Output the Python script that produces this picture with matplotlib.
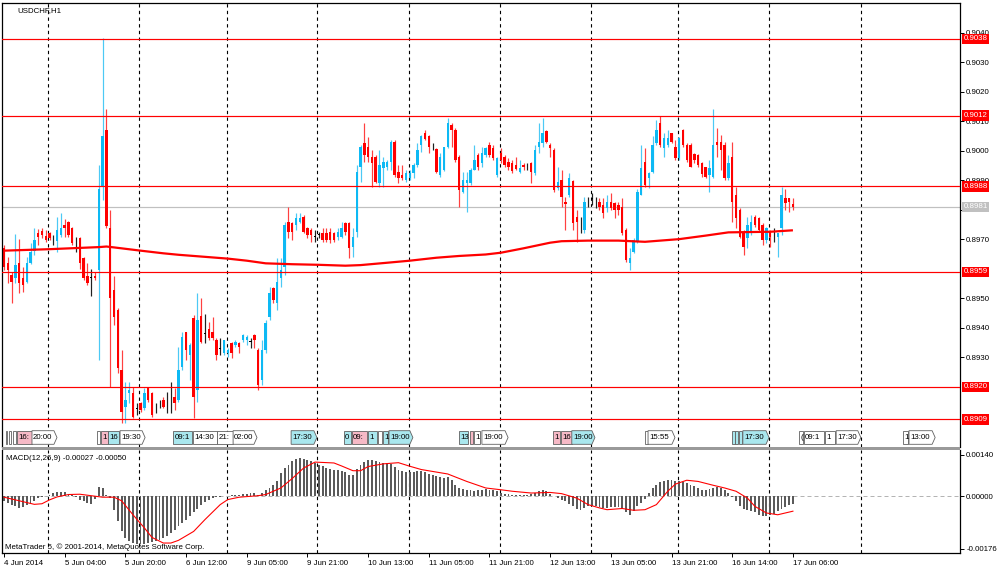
import matplotlib
matplotlib.use('Agg')
import matplotlib.pyplot as plt
from matplotlib.patches import Polygon, Rectangle
import matplotlib.transforms as mtransforms
import numpy as np

plt.rcParams['font.family'] = ['Liberation Sans', 'DejaVu Sans']

# ---------------- data (USDCHF H1, 4 Jun 2014 12:00 .. 17 Jun 2014 06:00) ----------------
open_ = [0.89670, 0.89619, 0.89579, 0.89568, 0.89619, 0.89568, 0.89557, 0.89621, 0.89662, 0.89721,
         0.89729, 0.89712, 0.89721, 0.89696, 0.89696, 0.89715, 0.89749, 0.89760, 0.89738, 0.89675,
         0.89704, 0.89636, 0.89576, 0.89572, 0.89576, 0.89596, 0.89879, 0.90071, 0.89738, 0.89529,
         0.89461, 0.89257, 0.89133, 0.89178, 0.89178, 0.89129, 0.89144, 0.89127, 0.89195, 0.89178,
         0.89123, 0.89140, 0.89156, 0.89147, 0.89167, 0.89167, 0.89156, 0.89269, 0.89387, 0.89308,
         0.89433, 0.89190, 0.89440, 0.89382, 0.89395, 0.89387, 0.89359, 0.89331, 0.89314, 0.89314,
         0.89348, 0.89342, 0.89348, 0.89359, 0.89359, 0.89355, 0.89376, 0.89325, 0.89223, 0.89325,
         0.89438, 0.89534, 0.89483, 0.89568, 0.89608, 0.89760, 0.89755, 0.89749, 0.89760, 0.89777,
         0.89738, 0.89732, 0.89711, 0.89718, 0.89721, 0.89721, 0.89726, 0.89721, 0.89709, 0.89709,
         0.89757, 0.89757, 0.89675, 0.89726, 0.89947, 0.90026, 0.90014, 0.89981, 0.89981, 0.89890,
         0.89941, 0.89947, 0.89964, 0.90031, 0.89930, 0.89918, 0.89901, 0.89907, 0.89924, 0.89952,
         0.90020, 0.90062, 0.90051, 0.90018, 0.90005, 0.89918, 0.89935, 0.90014, 0.90088, 0.90071,
         0.89981, 0.89862, 0.89890, 0.89890, 0.89935, 0.89986, 0.89958, 0.89986, 0.90020, 0.90009,
         0.89918, 0.89992, 0.89981, 0.89964, 0.89960, 0.89952, 0.89930, 0.89952, 0.89950, 0.89960,
         0.89924, 0.90014, 0.90026, 0.90069, 0.90020, 0.90003, 0.89873, 0.89901, 0.89828, 0.89851,
         0.89899, 0.89777, 0.89767, 0.89732, 0.89835, 0.89839, 0.89828, 0.89828, 0.89817, 0.89805,
         0.89828, 0.89822, 0.89817, 0.89811, 0.89732, 0.89619, 0.89659, 0.89692, 0.89851, 0.89964,
         0.89907, 0.89930, 0.90026, 0.90094, 0.90009, 0.90020, 0.90060, 0.90014, 0.89975, 0.90071,
         0.90020, 0.90020, 0.89990, 0.89986, 0.89958, 0.89947, 0.89918, 0.89913, 0.90031, 0.90031,
         0.90020, 0.89907, 0.89981, 0.89851, 0.89800, 0.89726, 0.89704, 0.89726, 0.89777, 0.89772,
         0.89749, 0.89698, 0.89721, 0.89716, 0.89709, 0.89738, 0.89839, 0.89839, 0.89820]
high = [0.89681, 0.89642, 0.89591, 0.89718, 0.89700, 0.89608, 0.89642, 0.89687, 0.89738, 0.89734,
        0.89738, 0.89732, 0.89726, 0.89715, 0.89777, 0.89788, 0.89768, 0.89764, 0.89743, 0.89709,
        0.89709, 0.89642, 0.89619, 0.89599, 0.89591, 0.89952, 0.90382, 0.90141, 0.89800, 0.89576,
        0.89466, 0.89325, 0.89218, 0.89218, 0.89199, 0.89144, 0.89150, 0.89195, 0.89199, 0.89184,
        0.89144, 0.89156, 0.89167, 0.89184, 0.89218, 0.89195, 0.89336, 0.89387, 0.89387, 0.89348,
        0.89444, 0.89517, 0.89500, 0.89447, 0.89421, 0.89438, 0.89365, 0.89365, 0.89359, 0.89331,
        0.89353, 0.89359, 0.89353, 0.89378, 0.89376, 0.89365, 0.89379, 0.89331, 0.89359, 0.89427,
        0.89540, 0.89540, 0.89636, 0.89636, 0.89760, 0.89811, 0.89760, 0.89788, 0.89788, 0.89783,
        0.89743, 0.89738, 0.89732, 0.89726, 0.89738, 0.89738, 0.89738, 0.89726, 0.89738, 0.89760,
        0.89760, 0.89760, 0.89738, 0.89952, 0.90020, 0.90094, 0.90048, 0.90003, 0.89986, 0.90003,
        0.89981, 0.89969, 0.90037, 0.90037, 0.89952, 0.89952, 0.89935, 0.89935, 0.89958, 0.90026,
        0.90054, 0.90071, 0.90054, 0.90026, 0.90009, 0.89992, 0.90014, 0.90111, 0.90094, 0.90077,
        0.89986, 0.89930, 0.89930, 0.89941, 0.90020, 0.89992, 0.90014, 0.90014, 0.90031, 0.90020,
        0.89981, 0.90009, 0.89986, 0.89975, 0.89969, 0.89981, 0.89969, 0.89958, 0.89958, 0.89964,
        0.90020, 0.90094, 0.90111, 0.90071, 0.90026, 0.90009, 0.89947, 0.89935, 0.89845, 0.89924,
        0.89901, 0.89800, 0.89777, 0.89845, 0.89845, 0.89856, 0.89845, 0.89839, 0.89839, 0.89851,
        0.89856, 0.89828, 0.89828, 0.89839, 0.89738, 0.89670, 0.89704, 0.89870, 0.90020, 0.90009,
        0.89930, 0.90051, 0.90105, 0.90118, 0.90060, 0.90071, 0.90062, 0.90037, 0.90048, 0.90073,
        0.90026, 0.90026, 0.89992, 0.89990, 0.89964, 0.89947, 0.89969, 0.90141, 0.90079, 0.90054,
        0.90031, 0.89986, 0.90031, 0.89879, 0.89805, 0.89732, 0.89777, 0.89783, 0.89783, 0.89777,
        0.89755, 0.89743, 0.89732, 0.89738, 0.89721, 0.89879, 0.89870, 0.89839, 0.89839]
low = [0.89596, 0.89551, 0.89483, 0.89551, 0.89517, 0.89523, 0.89551, 0.89617, 0.89647, 0.89681,
       0.89704, 0.89692, 0.89698, 0.89681, 0.89659, 0.89709, 0.89709, 0.89709, 0.89681, 0.89659,
       0.89599, 0.89562, 0.89546, 0.89508, 0.89562, 0.89291, 0.89834, 0.89738, 0.89199, 0.89410,
       0.89246, 0.89077, 0.89077, 0.89144, 0.89094, 0.89105, 0.89116, 0.89122, 0.89150, 0.89099,
       0.89110, 0.89127, 0.89127, 0.89110, 0.89110, 0.89122, 0.89150, 0.89257, 0.89291, 0.89223,
       0.89094, 0.89150, 0.89348, 0.89348, 0.89359, 0.89359, 0.89291, 0.89308, 0.89308, 0.89303,
       0.89297, 0.89336, 0.89314, 0.89353, 0.89342, 0.89331, 0.89331, 0.89190, 0.89207, 0.89314,
       0.89427, 0.89483, 0.89461, 0.89540, 0.89579, 0.89704, 0.89698, 0.89732, 0.89755, 0.89721,
       0.89704, 0.89692, 0.89692, 0.89704, 0.89692, 0.89692, 0.89687, 0.89692, 0.89698, 0.89704,
       0.89715, 0.89636, 0.89642, 0.89709, 0.89896, 0.89964, 0.89964, 0.89879, 0.89890, 0.89879,
       0.89879, 0.89935, 0.89935, 0.89913, 0.89890, 0.89901, 0.89896, 0.89901, 0.89907, 0.89947,
       0.89998, 0.90037, 0.89992, 0.90003, 0.89924, 0.89913, 0.89933, 0.90009, 0.90014, 0.89964,
       0.89811, 0.89856, 0.89794, 0.89885, 0.89935, 0.89935, 0.89947, 0.89981, 0.89981, 0.89969,
       0.89913, 0.89958, 0.89947, 0.89935, 0.89926, 0.89935, 0.89924, 0.89935, 0.89935, 0.89890,
       0.89918, 0.89992, 0.90014, 0.90026, 0.89981, 0.89862, 0.89868, 0.89811, 0.89732, 0.89845,
       0.89732, 0.89692, 0.89721, 0.89721, 0.89811, 0.89817, 0.89805, 0.89800, 0.89772, 0.89794,
       0.89800, 0.89772, 0.89783, 0.89715, 0.89625, 0.89596, 0.89653, 0.89687, 0.89851, 0.89879,
       0.89873, 0.89924, 0.90020, 0.90014, 0.89981, 0.90014, 0.90026, 0.89969, 0.89969, 0.90014,
       0.89964, 0.89944, 0.89958, 0.89944, 0.89913, 0.89907, 0.89862, 0.89907, 0.89981, 0.89935,
       0.89901, 0.89901, 0.89760, 0.89738, 0.89704, 0.89647, 0.89670, 0.89715, 0.89743, 0.89726,
       0.89681, 0.89687, 0.89675, 0.89692, 0.89642, 0.89715, 0.89800, 0.89794, 0.89800]
close = [0.89608, 0.89596, 0.89557, 0.89613, 0.89551, 0.89546, 0.89619, 0.89659, 0.89698, 0.89709,
         0.89715, 0.89698, 0.89704, 0.89694, 0.89732, 0.89738, 0.89738, 0.89715, 0.89687, 0.89673,
         0.89619, 0.89568, 0.89551, 0.89569, 0.89568, 0.89870, 0.90051, 0.89746, 0.89500, 0.89438,
         0.89263, 0.89116, 0.89156, 0.89190, 0.89099, 0.89126, 0.89122, 0.89178, 0.89156, 0.89105,
         0.89121, 0.89138, 0.89133, 0.89144, 0.89165, 0.89144, 0.89257, 0.89370, 0.89325, 0.89342,
         0.89167, 0.89427, 0.89353, 0.89379, 0.89365, 0.89365, 0.89308, 0.89329, 0.89359, 0.89325,
         0.89314, 0.89353, 0.89336, 0.89376, 0.89370, 0.89352, 0.89359, 0.89207, 0.89325, 0.89418,
         0.89517, 0.89495, 0.89557, 0.89596, 0.89749, 0.89726, 0.89726, 0.89772, 0.89772, 0.89726,
         0.89715, 0.89715, 0.89708, 0.89716, 0.89698, 0.89698, 0.89698, 0.89698, 0.89726, 0.89738,
         0.89726, 0.89670, 0.89709, 0.89930, 0.90014, 0.89986, 0.89981, 0.89958, 0.89896, 0.89952,
         0.89964, 0.89964, 0.90031, 0.89918, 0.89907, 0.89907, 0.89924, 0.89924, 0.89952, 0.90003,
         0.90051, 0.90039, 0.90014, 0.90016, 0.89930, 0.89981, 0.90012, 0.90094, 0.90071, 0.89969,
         0.89868, 0.89901, 0.89901, 0.89935, 0.89969, 0.89947, 0.89992, 0.90009, 0.89986, 0.89975,
         0.89975, 0.89969, 0.89952, 0.89947, 0.89933, 0.89938, 0.89941, 0.89944, 0.89948, 0.89930,
         0.90003, 0.90031, 0.90060, 0.90031, 0.90009, 0.89868, 0.89896, 0.89845, 0.89820, 0.89907,
         0.89755, 0.89760, 0.89765, 0.89828, 0.89833, 0.89837, 0.89826, 0.89811, 0.89788, 0.89828,
         0.89805, 0.89800, 0.89800, 0.89721, 0.89630, 0.89636, 0.89698, 0.89862, 0.89941, 0.89885,
         0.89924, 0.90020, 0.90071, 0.90020, 0.90043, 0.90043, 0.90031, 0.89975, 0.90043, 0.90020,
         0.89969, 0.89947, 0.89969, 0.89952, 0.89922, 0.89913, 0.89941, 0.90020, 0.90020, 0.90003,
         0.89907, 0.89958, 0.89828, 0.89772, 0.89709, 0.89675, 0.89749, 0.89760, 0.89749, 0.89732,
         0.89698, 0.89738, 0.89709, 0.89714, 0.89721, 0.89851, 0.89822, 0.89828, 0.89811]

# moving average (bar index, price)
ma_idx = [0, 12, 25, 27, 29, 36, 42, 46, 52, 59, 64, 69, 76, 83, 90, 94, 101, 107, 114, 120,
          127, 131, 137, 144, 147, 154, 162, 169, 178, 185, 191, 202, 208]
ma_val = [0.89662, 0.89667, 0.89674, 0.89676, 0.89673, 0.89662, 0.89653, 0.89648, 0.89642, 0.89635,
          0.89628, 0.89619, 0.89616, 0.89614, 0.89611, 0.89613, 0.89621, 0.89628, 0.89638, 0.89644,
          0.89649, 0.89655, 0.89670, 0.89689, 0.89694, 0.89696, 0.89696, 0.89692, 0.89701, 0.89713,
          0.89724, 0.89726, 0.89731]

# MACD(12,26,9) main histogram, in units of 1e-5
macd_e5 = [-17, -22, -28, -34, -39, -37, -30, -22, -15, -6,
           -2, 2, 6, 11, 13, 13, 13, 9, 6, -4,
           -11, -17, -22, -25, -10, 30, 28, 6, -6, -45,
           -84, -118, -140, -150, -157, -160, -161, -160, -158, -155,
           -151, -146, -140, -132, -122, -112, -101, -90, -78, -66,
           -54, -42, -30, -20, -12, -7, -4, -2, 0, 2,
           3, 4, 6, 8, 9, 10, 10, 6, 10, 22,
           28, 39, 50, 78, 95, 106, 118, 125, 129, 127,
           123, 118, 112, 106, 101, 95, 92, 90, 87, 84,
           81, 73, 70, 92, 106, 115, 121, 121, 118, 116,
           113, 111, 110, 100, 90, 84, 82, 81, 81, 84,
           84, 81, 76, 73, 69, 65, 62, 65, 56, 39,
           28, 25, 22, 20, 18, 20, 22, 25, 22, 20,
           17, 11, 9, 7, 6, 4, 4, 6, 6, 7,
           11, 17, 20, 17, 9, 2, -6, -11, -17, -25,
           -34, -43, -45, -39, -34, -31, -34, -36, -39, -39,
           -37, -37, -36, -43, -54, -62, -50, -34, -22, -9,
           11, 28, 39, 47, 52, 54, 54, 53, 50, 47,
           45, 39, 34, 28, 22, 20, 25, 28, 30, 28,
           22, 11, -2, -17, -34, -43, -47, -50, -54, -62,
           -65, -65, -62, -58, -50, -43, -36, -28, -27]

# MACD signal line (bar index, value in 1e-5)
sig_idx = [0, 4, 8, 10, 12, 14, 17, 20, 23, 26, 29, 31, 34, 37, 39, 42, 44, 46, 50, 53,
           57, 59, 62, 67, 69, 73, 76, 79, 82, 87, 89, 92, 94, 96, 100, 104, 107, 110, 117, 122,
           127, 131, 134, 139, 144, 147, 151, 154, 157, 159, 163, 166, 169, 172, 175, 177, 180, 183, 187, 190,
           193, 196, 198, 201, 204, 205, 208]
sig_e5 = [-3, -15, -27, -25, -12, -2, 6, 7, 2, -3, -3, -15, -62, -106, -138, -157, -157, -148, -118, -78,
          -28, -11, -3, 2, 6, 28, 60, 95, 115, 112, 102, 86, 86, 100, 109, 113, 101, 90, 75, 50,
          28, 22, 17, 11, 13, 9, -6, -28, -39, -45, -41, -47, -45, -28, 17, 41, 54, 50, 37, 28,
          17, -6, -34, -56, -62, -59, -50]

x_labels = ["4 Jun 2014", "5 Jun 04:00", "5 Jun 20:00", "6 Jun 12:00", "9 Jun 05:00",
            "9 Jun 21:00", "10 Jun 13:00", "11 Jun 05:00", "11 Jun 21:00", "12 Jun 13:00",
            "13 Jun 05:00", "13 Jun 21:00", "16 Jun 14:00", "17 Jun 06:00"]
label_step = 16

levels = [0.9038, 0.9012, 0.8988, 0.8959, 0.8920, 0.8909]
bid = 0.8981
# price-scale labels left visible (the others sit fully under the level tags)
price_ticks = [0.8930, 0.8940, 0.8950, 0.8970, 0.8980, 0.8990, 0.9000,
               0.9010, 0.9020, 0.9030, 0.9040]
macd_ticks = [0.00140, 0.0, -0.00176]
macd_last, signal_last = -0.00027, -0.00050

# economic-calendar tags: (start bar, end bar, text, kind, arrow)
events = [(0.53, 0.92, "", "w", False), (1.45, 1.85, "", "w", False), (2.37, 3.16, "", "w", False),
          (3.43, 7.38, "16:", "p", False), (7.38, 13.97, "20:00", "w", True),
          (24.5, 25.3, "", "w", False), (25.6, 27.4, "1", "p", False), (27.4, 30.3, "16", "c", False),
          (30.6, 37.2, "19:30", "w", True), (44.6, 49.6, "09:1", "c", False),
          (49.8, 56.2, "14:30", "w", False), (56.2, 60.4, "21:", "w", False),
          (60.4, 66.7, "02:00", "w", True), (75.7, 82.5, "17:30", "c", True),
          (89.6, 91.5, "0", "c", False), (91.7, 95.7, "09:", "p", False), (96.0, 98.3, "1", "c", False),
          (98.6, 99.7, "", "w", False), (99.9, 101.2, "1", "c", False), (101.5, 107.8, "19:00", "c", True),
          (120.0, 122.3, "13", "c", False), (122.9, 123.6, "", "p", False), (123.9, 125.5, "1", "w", False),
          (126.0, 132.9, "19:00", "w", True), (144.7, 146.6, "1", "p", False),
          (146.9, 149.7, "16", "p", False), (149.7, 155.8, "19:00", "c", True),
          (169.0, 169.7, "", "w", False), (169.8, 176.9, "15:55", "w", True),
          (191.9, 192.6, "", "c", False), (192.7, 193.5, "", "c", False), (193.8, 194.6, "", "c", False),
          (194.8, 201.7, "17:30", "c", True), (209.6, 210.6, "(", "w", False),
          (210.9, 216.2, "09:1", "w", False), (216.5, 219.1, "1", "w", False),
          (219.4, 225.9, "17:30", "w", True), (237.0, 238.3, "1", "w", False),
          (238.6, 245.5, "13:00", "w", True)]

# ---------------- layout ----------------
W, H = 1000, 574
fig = plt.figure(figsize=(W / 100, H / 100), dpi=100)
fig.patch.set_facecolor('white')


def box(x0, y0, x1, y1):
    return [x0 / W, 1 - y1 / H, (x1 - x0) / W, (y1 - y0) / H]


XL = (-0.527, 252.05)
grid_x = [11.6, 35.6, 58.8, 82.6, 106.8, 130.8, 154.8, 177.8, 201.8, 226.0]

ax = fig.add_axes(box(2, 3, 960, 447))
axm = fig.add_axes(box(2, 450, 960, 553))
strip = fig.add_axes(box(2, 429, 960, 446))

FS = 5.7
px = 72 / 100  # one pixel in points

# ---------------- main price panel ----------------
o = np.array(open_); h = np.array(high); l = np.array(low); c = np.array(close)
n = len(c)
x = np.arange(n)
up = c > o + 3e-5
dn = c < o - 3e-5
body_col = np.where(up, '#0DB9F4', np.where(dn, '#FF0000', '#000000'))
wick_col = np.where(up, '#4CC9F5', np.where(dn, '#FF4040', '#202020'))

for g in grid_x:
    ax.axvline(g, color='black', lw=0.8, ls=(0, (3, 3)), zorder=1)
ax.axhline(bid, color='#C0C0C0', lw=px * 1.2, zorder=1.5)

ax.vlines(x, l, h, colors=wick_col, lw=px * 1.2, zorder=2)
bh = np.maximum(np.abs(c - o), 2.4e-5)
bb = np.where(np.abs(c - o) < 2.4e-5, (o + c) / 2 - 1.2e-5, np.minimum(o, c))
ax.bar(x, bh, bottom=bb, width=0.64, color=body_col, linewidth=0, zorder=2.5)

ax.plot(ma_idx, ma_val, color='#FF0000', lw=1.6, zorder=3, solid_capstyle='butt')

for lv in levels:
    ax.axhline(lv, color='#FF0000', lw=px * 1.2, zorder=4)

ax.set_xlim(*XL)
ax.set_ylim(0.889964, 0.905015)
ax.yaxis.tick_right()
ax.set_yticks(price_ticks)
ax.set_yticklabels([f"{t:.4f}" for t in price_ticks])
ax.tick_params(axis='y', direction='out', length=3, width=0.7, labelsize=FS, pad=1.5)
ax.tick_params(axis='x', bottom=False, labelbottom=False)
for s in ['top', 'left', 'right']:
    ax.spines[s].set_linewidth(0.9)
ax.spines['bottom'].set_visible(False)

tr = mtransforms.blended_transform_factory(ax.transAxes, ax.transData)
for lv in levels:
    ax.text(1.0035, lv, f"{lv:.4f}", transform=tr, ha='left', va='center', fontsize=FS,
            color='white', zorder=10, clip_on=False,
            bbox=dict(boxstyle='square,pad=0.22', fc='#FF0000', ec='none'))
ax.text(1.0035, bid, f"{bid:.4f}", transform=tr, ha='left', va='center', fontsize=FS,
        color='white', zorder=10, clip_on=False,
        bbox=dict(boxstyle='square,pad=0.22', fc='#C0C0C0', ec='none'))

fig.text(17 / W, 1 - 11 / H, "USDCHF,H1", fontsize=FS, va='center', ha='left')

# ---------------- events strip ----------------
strip.set_xlim(*XL)
strip.set_ylim(0, 1)
strip.axis('off')
strip.patch.set_visible(False)
fills = {'w': '#FFFFFF', 'p': '#F6B9C6', 'c': '#A9E7EE'}
yb, yt = 0.1, 0.9
for (a, b, t, k, arr) in events:
    if arr:
        pts = [(a, yb), (b - 0.8, yb), (b, (yb + yt) / 2), (b - 0.8, yt), (a, yt)]
    else:
        pts = [(a, yb), (b, yb), (b, yt), (a, yt)]
    poly = Polygon(pts, closed=True, fc=fills[k], ec='#606060', lw=0.6, zorder=5)
    strip.add_patch(poly)
    if t:
        tx = strip.text(a + 0.3, (yb + yt) / 2 - 0.02, t, fontsize=FS, va='center', ha='left', zorder=6)
        tx.set_clip_path(poly)

# ---------------- MACD panel ----------------
macd = np.array(macd_e5) * 1e-5
sig = np.array(sig_e5) * 1e-5
for g in grid_x:
    axm.axvline(g, color='black', lw=0.8, ls=(0, (3, 3)), zorder=1)
axm.axhline(0, color='#B4B4B4', lw=px, ls=(0, (4, 3)), zorder=1.5)
axm.bar(x, macd, width=0.5, color='#5A5A5A', linewidth=0, zorder=2)
axm.plot(sig_idx, sig, color='#FF0000', lw=px * 1.1, zorder=3)

axm.set_xlim(*XL)
axm.set_ylim(-0.001905, 0.001556)
axm.yaxis.tick_right()
axm.set_yticks(macd_ticks)
axm.set_yticklabels([f"{t:.5f}" for t in macd_ticks])
axm.tick_params(axis='y', direction='out', length=3, width=0.7, labelsize=FS, pad=1.5)
tick_pos = list(range(0, label_step * len(x_labels), label_step))
axm.set_xticks(tick_pos)
axm.set_xticklabels(x_labels)
for lb in axm.get_xticklabels():
    lb.set_horizontalalignment('left')
axm.tick_params(axis='x', direction='out', length=3, width=0.7, labelsize=FS, pad=2)
for s in ['bottom', 'left', 'right']:
    axm.spines[s].set_linewidth(0.9)
axm.spines['top'].set_visible(False)

fig.text(6 / W, 1 - 458 / H, f"MACD(12,26,9) {macd_last:.5f} {signal_last:.5f}", fontsize=FS,
         va='center', ha='left')
fig.text(5 / W, 1 - 547 / H, "MetaTrader 5, \u00a9 2001-2014, MetaQuotes Software Corp.",
         fontsize=FS, va='center', ha='left', zorder=10)

# separator between panels
fig.add_artist(Rectangle((2 / W, 1 - 450 / H), 958 / W, 3 / H, transform=fig.transFigure,
                         fc='#9A9A9A', ec='none'))

fig.savefig('out.png', dpi=100, facecolor='white')
